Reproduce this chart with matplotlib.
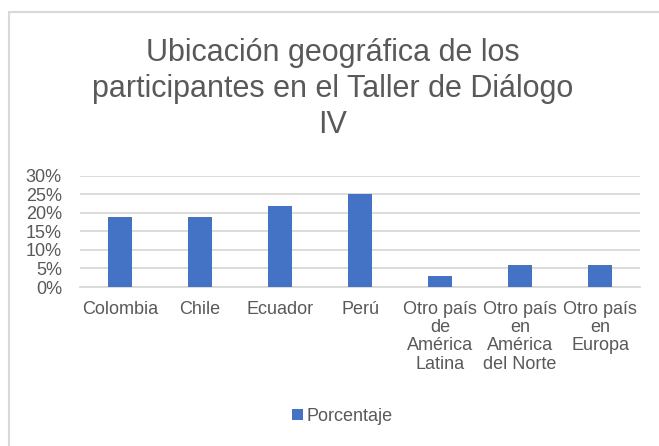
import matplotlib.pyplot as plt
from matplotlib.patches import Rectangle
from matplotlib.ticker import FuncFormatter

plt.rcParams['font.family'] = ['Liberation Sans', 'DejaVu Sans']

# Data
categorias = ['Colombia', 'Chile', 'Ecuador', 'Perú',
              'Otro país\nde\nAmérica\nLatina',
              'Otro país\nen\nAmérica\ndel Norte',
              'Otro país\nen\nEuropa']
porcentaje = [0.19, 0.19, 0.22, 0.25, 0.03, 0.06, 0.06]
y_ticks = [0, 0.05, 0.10, 0.15, 0.20, 0.25, 0.30]

gris = '#595959'
grid_color = '#D9D9D9'
azul = '#4472C4'

fig = plt.figure(figsize=(6.59, 4.46), dpi=100)
ax = fig.add_axes([0.1214, 0.3565, 0.85, 0.249])

x = range(len(categorias))
ax.bar(x, porcentaje, width=0.3, color=azul, label='Porcentaje', zorder=3)

ax.set_xlim(-0.5, len(categorias) - 0.5)
ax.set_ylim(0, 0.30)
ax.set_yticks(y_ticks)
ax.yaxis.set_major_formatter(FuncFormatter(lambda v, p: f'{v * 100:.0f}%'))
ax.set_xticks(list(x))
ax.set_xticklabels(categorias, linespacing=1.1)

ax.grid(axis='y', color=grid_color, linewidth=1.3, zorder=0)
for s in ['top', 'right', 'left']:
    ax.spines[s].set_visible(False)
ax.spines['bottom'].set_color(grid_color)
ax.spines['bottom'].set_linewidth(1.3)
ax.tick_params(axis='x', length=0, pad=10, labelsize=13, labelcolor=gris)
ax.tick_params(axis='y', length=0, pad=13, labelsize=13, labelcolor=gris)

fig.text(0.505, 0.80,
         'Ubicación geográfica de los\nparticipantes en el Taller de Diálogo\nIV',
         ha='center', va='center', fontsize=22, color=gris, linespacing=1.25)

fig.legend(loc='center', bbox_to_anchor=(0.52, 0.067), frameon=False,
           fontsize=13, labelcolor=gris, handlelength=0.6, handleheight=0.6,
           handletextpad=0.2)

# chart border
fig.patches.append(Rectangle((9 / 659, -0.1), 1.2, 1.1 - 12 / 446,
                             transform=fig.transFigure, fill=False,
                             edgecolor=grid_color, linewidth=1.5))

fig.savefig('out.png', dpi=100)
